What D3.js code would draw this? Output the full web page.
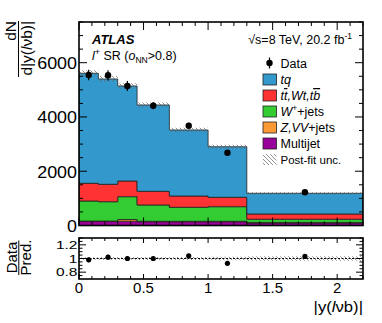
<!DOCTYPE html>
<html><head><meta charset="utf-8">
<script src="https://cdn.jsdelivr.net/npm/d3@7"></script>
<style>body{margin:0;background:#fff} svg{display:block} text{font-family:"Liberation Sans",Arial,Helvetica,sans-serif;fill:#000}</style>
</head><body><svg id="c" width="382" height="323"></svg>
<script>
// ---- data ----
const binEdges = [0, 0.15, 0.3, 0.45, 0.7, 1.0, 1.3, 2.2];
const dataValues = [5547, 5536, 5142, 4416, 3679, 2683, 1224];
const dataErrors = [190, 190, 185, 135, 110, 95, 37];
const tqValues = [4055, 3882, 3502, 3182, 2433, 1864, 763];
const topValues = [652, 641, 578, 504, 416, 346, 194];
const wjetsValues = [738, 712, 842, 601, 516, 538, 115];
const zvvValues = [15, 15, 60, 15, 15, 15, 25];
const multijetValues = [150, 150, 160, 140, 140, 140, 90];
const uncValues = [110, 110, 100, 90, 80, 70, 40];
const ratioValues = [0.98, 1.02, 1.0, 1.0, 1.04, 0.93, 1.03];
const ratioErrors = [0.034, 0.034, 0.036, 0.03, 0.03, 0.035, 0.03];
const xTicks = [0, 0.5, 1, 1.5, 2];
const xTickLabels = ["0", "0.5", "1", "1.5", "2"];
const yTicks = [0, 2000, 4000, 6000];
const ratioTicks = [0.8, 1, 1.2];
const ratioTickLabels = ["0.8", "1", "1.2"];

const svg = d3.select("#c");
const L = 79, R = 363, T = 22, B = 225.5, T2 = 238, B2 = 279;
const x = d3.scaleLinear().domain([0, 2.2]).range([L, R]);
const y = d3.scaleLinear().domain([0, 7500]).range([B, T]);
const yr = d3.scaleLinear().domain([0.7, 1.3]).range([B2, T2]);

const defs = svg.append("defs");
const pat = defs.append("pattern").attr("id", "hatch").attr("patternUnits", "userSpaceOnUse")
  .attr("width", 4).attr("height", 4);
pat.append("path").attr("d", "M0,0 L4,4 M-1,3 L1,5 M3,-1 L5,1").attr("stroke", "#666").attr("stroke-width", 0.7);
defs.append("clipPath").attr("id", "cm").append("rect").attr("x", L).attr("y", T).attr("width", R - L).attr("height", B - T);
defs.append("clipPath").attr("id", "cr").append("rect").attr("x", L).attr("y", T2).attr("width", R - L).attr("height", B2 - T2);

const layers = [
  { name: "Multijet", vals: multijetValues, color: "#990099" },
  { name: "Z,VV+jets", vals: zvvValues, color: "#ff9933" },
  { name: "W+jets", vals: wjetsValues, color: "#33cc33" },
  { name: "tt,Wt,tb", vals: topValues, color: "#ff3333" },
  { name: "tq", vals: tqValues, color: "#3399cc" }
];
const nb = binEdges.length - 1;
let cum = new Array(nb).fill(0);
const main = svg.append("g").attr("clip-path", "url(#cm)");
const area = d3.area().x(d => x(d.x)).y0(d => y(d.lo)).y1(d => y(d.hi));
const areaR = d3.area().x(d => x(d.x)).y0(d => yr(d.lo)).y1(d => yr(d.hi));
const stepPts = (lo, hi) => {
  const p = [];
  for (let i = 0; i < nb; i++) {
    p.push({ x: binEdges[i], lo: lo[i], hi: hi[i] });
    p.push({ x: binEdges[i + 1], lo: lo[i], hi: hi[i] });
  }
  return p;
};
const total = new Array(nb).fill(0);
layers.forEach(l => l.vals.forEach((v, i) => total[i] += v));
const stacks = [];
layers.forEach(l => {
  const lo = cum.slice();
  const hi = cum.map((c, i) => c + l.vals[i]);
  stacks.push({ l, lo, hi });
  cum = hi;
});
stacks.forEach(s => {
  main.append("path").attr("d", area(stepPts(s.lo, s.hi))).attr("fill", s.l.color)
    .attr("stroke", "#222").attr("stroke-width", 0.8);
});
main.append("path").attr("d", area(stepPts(total.map((t, i) => t - uncValues[i]), total.map((t, i) => t + uncValues[i]))))
  .attr("fill", "url(#hatch)");

const mid = i => (binEdges[i] + binEdges[i + 1]) / 2;
const pts = svg.append("g");
dataValues.forEach((v, i) => {
  pts.append("line").attr("x1", x(mid(i))).attr("x2", x(mid(i)))
    .attr("y1", y(v - dataErrors[i])).attr("y2", y(v + dataErrors[i])).attr("stroke", "#000").attr("stroke-width", 1.2);
  pts.append("circle").attr("cx", x(mid(i))).attr("cy", y(v)).attr("r", 3.2).attr("fill", "#000");
});

// ratio panel
const rp = svg.append("g").attr("clip-path", "url(#cr)");
rp.append("path").attr("d", areaR(stepPts(total.map((t, i) => 1 - uncValues[i] / t), total.map((t, i) => 1 + uncValues[i] / t))))
  .attr("fill", "url(#hatch)");
rp.append("line").attr("x1", L).attr("x2", R).attr("y1", yr(1)).attr("y2", yr(1))
  .attr("stroke", "#000").attr("stroke-width", 1).attr("stroke-dasharray", "2,1.5");
ratioValues.forEach((v, i) => {
  rp.append("line").attr("x1", x(mid(i))).attr("x2", x(mid(i)))
    .attr("y1", yr(v - ratioErrors[i])).attr("y2", yr(v + ratioErrors[i])).attr("stroke", "#000").attr("stroke-width", 1.2);
  rp.append("circle").attr("cx", x(mid(i))).attr("cy", yr(v)).attr("r", 2.6).attr("fill", "#000");
});

// ticks
function ticksX(top, bot, maj, mn) {
  const g = svg.append("g").attr("stroke", "#000").attr("stroke-width", 1);
  d3.range(0, 2.2001, 0.1).forEach(t => {
    const isMaj = Math.abs(t * 2 - Math.round(t * 2)) < 1e-6;
    const len = isMaj ? maj : mn;
    g.append("line").attr("x1", x(t)).attr("x2", x(t)).attr("y1", bot).attr("y2", bot - len);
    g.append("line").attr("x1", x(t)).attr("x2", x(t)).attr("y1", top).attr("y2", top + len);
  });
}
ticksX(T, B, 8, 4);
ticksX(T2, B2, 5, 3);
const gy = svg.append("g").attr("stroke", "#000").attr("stroke-width", 1);
d3.range(0, 7501, 500).forEach(t => {
  const len = t % 2000 === 0 ? 8 : 4;
  gy.append("line").attr("x1", L).attr("x2", L + len).attr("y1", y(t)).attr("y2", y(t));
  gy.append("line").attr("x1", R).attr("x2", R - len).attr("y1", y(t)).attr("y2", y(t));
});
d3.range(0.75, 1.3001, 0.05).forEach(t => {
  const isMaj = ratioTicks.some(r => Math.abs(r - t) < 1e-6);
  const len = isMaj ? 7 : 3.5;
  gy.append("line").attr("x1", L).attr("x2", L + len).attr("y1", yr(t)).attr("y2", yr(t));
  gy.append("line").attr("x1", R).attr("x2", R - len).attr("y1", yr(t)).attr("y2", yr(t));
});

// frames
svg.append("rect").attr("x", L).attr("y", T).attr("width", R - L).attr("height", B - T)
  .attr("fill", "none").attr("stroke", "#000").attr("stroke-width", 1.6);
svg.append("rect").attr("x", L).attr("y", T2).attr("width", R - L).attr("height", B2 - T2)
  .attr("fill", "none").attr("stroke", "#000").attr("stroke-width", 1.6);

// tick labels
const stretch = (sel, px, py, sx) => sel.attr("transform", `translate(${px},${py}) scale(${sx},1)`);
yTicks.forEach(t => {
  stretch(svg.append("text").attr("text-anchor", "end").attr("font-size", 16).text(String(t)), 77, y(t) + 6.5, 1.12);
});
ratioTicks.forEach((t, i) => {
  stretch(svg.append("text").attr("text-anchor", "end").attr("font-size", 11.5).text(ratioTickLabels[i]), 77.5, yr(t) + 4.2, 1.35);
});
xTicks.forEach((t, i) => {
  svg.append("text").attr("x", x(t)).attr("y", 292.5).attr("text-anchor", "middle").attr("font-size", 15).text(xTickLabels[i]);
});

// axis titles
const xt = svg.append("text").attr("text-anchor", "end").attr("font-size", 14.5);
stretch(xt, 363, 312, 1.15);
xt.append("tspan").text("|y(");
xt.append("tspan").attr("font-style", "italic").text("l");
xt.append("tspan").text("\u03bdb)|");

const yt = svg.append("g");
yt.append("text").attr("text-anchor", "end").attr("font-size", 15.5).attr("transform", "translate(16,21) rotate(-90)").text("dN");
yt.append("line").attr("x1", 18.5).attr("x2", 18.5).attr("y1", 21).attr("y2", 77).attr("stroke", "#000").attr("stroke-width", 1);
const yDen = yt.append("text").attr("text-anchor", "end").attr("font-size", 15.5).attr("transform", "translate(32,21) rotate(-90)");
yDen.append("tspan").text("d|y(");
yDen.append("tspan").attr("font-style", "italic").text("l");
yDen.append("tspan").text("\u03bdb)|");

svg.append("text").attr("text-anchor", "middle").attr("font-size", 15).attr("transform", "translate(16.5,257.5) rotate(-90)").text("Data");
svg.append("line").attr("x1", 18.8).attr("x2", 18.8).attr("y1", 240.5).attr("y2", 275).attr("stroke", "#000").attr("stroke-width", 1);
svg.append("text").attr("text-anchor", "middle").attr("font-size", 15).attr("transform", "translate(31,257.5) rotate(-90)").text("Pred.");

// labels in plot
svg.append("text").attr("x", 92).attr("y", 44).attr("font-size", 13).attr("font-weight", "bold").attr("font-style", "italic").text("ATLAS");
const l2 = svg.append("text").attr("x", 92).attr("y", 59.5).attr("font-size", 12.5);
l2.append("tspan").attr("font-style", "italic").text("l");
l2.append("tspan").attr("font-size", 9).attr("dy", -5).text("+");
l2.append("tspan").attr("dy", 5).text(" SR (");
l2.append("tspan").attr("font-style", "italic").text("o");
l2.append("tspan").attr("font-size", 8.5).attr("dy", 3).text("NN");
l2.append("tspan").attr("dy", -3).text(">0.8)");
const en = svg.append("text").attr("x", 352).attr("y", 44).attr("text-anchor", "end").attr("font-size", 12.5);
en.append("tspan").text("\u221as=8 TeV, 20.2 fb");
en.append("tspan").attr("font-size", 8.5).attr("dy", -5).text("-1");

// legend
const lx = 263, tx = 280.5;
const lg = svg.append("g");
lg.append("line").attr("x1", 269.5).attr("x2", 269.5).attr("y1", 57.5).attr("y2", 68.5).attr("stroke", "#000").attr("stroke-width", 1.2);
lg.append("circle").attr("cx", 269.5).attr("cy", 63).attr("r", 3.2).attr("fill", "#000");
lg.append("text").attr("x", tx).attr("y", 67.5).attr("font-size", 12.5).text("Data");
const legRows = [
  { fill: layers[4].color, y: 79.5 },
  { fill: layers[3].color, y: 95.5 },
  { fill: layers[2].color, y: 111.5 },
  { fill: layers[1].color, y: 127.5 },
  { fill: layers[0].color, y: 143.5 },
  { fill: "url(#hatch)", y: 159.5 }
];
legRows.forEach((r, i) => {
  lg.append("rect").attr("x", lx).attr("y", r.y - 5.5).attr("width", 13.5).attr("height", 11).attr("fill", r.fill)
    .attr("stroke", i === 5 ? "none" : "#222").attr("stroke-width", 0.8);
});
const tl = (yy) => lg.append("text").attr("x", tx).attr("y", yy + 4.5).attr("font-size", 12.5);
let t0 = tl(79.5); t0.append("tspan").attr("font-style", "italic").text("tq");
let t1 = tl(95.5).attr("font-style", "italic");
t1.append("tspan").text("t");
t1.append("tspan").attr("text-decoration", "overline").text("t");
t1.append("tspan").text(",Wt,t");
t1.append("tspan").attr("text-decoration", "overline").text("b");
let t2 = tl(111.5);
t2.append("tspan").attr("font-style", "italic").text("W");
t2.append("tspan").attr("font-size", 8.5).attr("dy", -5).text("+");
t2.append("tspan").attr("dy", 5).text("+jets");
let t3 = tl(127.5);
t3.append("tspan").attr("font-style", "italic").text("Z,VV");
t3.append("tspan").text("+jets");
tl(143.5).text("Multijet");
tl(159.5).attr("font-size", 11.5).text("Post-fit unc.");
</script></body></html>
